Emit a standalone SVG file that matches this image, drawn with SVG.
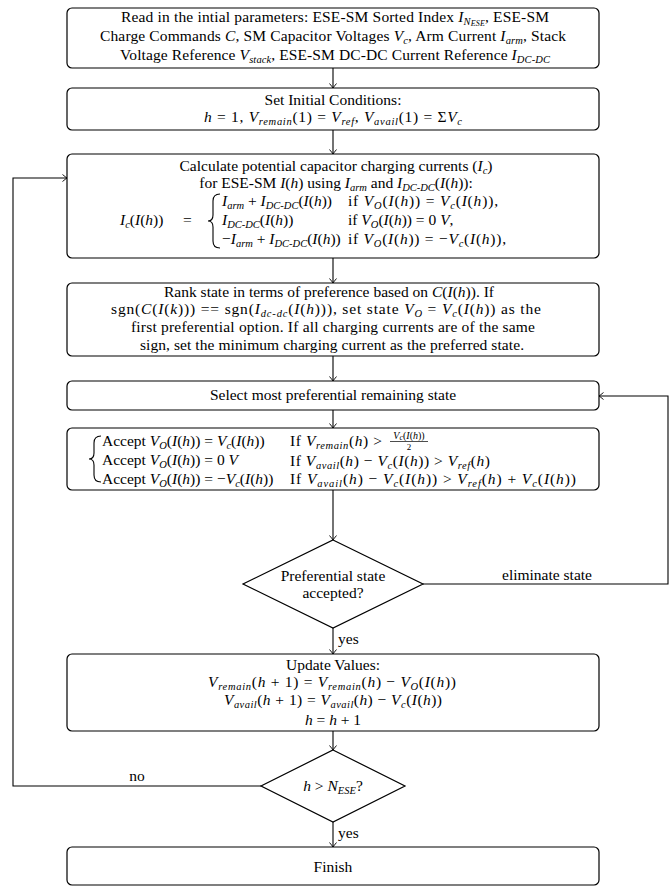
<svg xmlns="http://www.w3.org/2000/svg" width="671" height="886" viewBox="0 0 671 886">
<style>
.t{font-family:"Liberation Serif","Times New Roman","DejaVu Serif",serif;font-size:15.5px;fill:#000}
.i{font-style:italic}
.s{font-size:10.5px;font-style:italic}
.ss{font-size:8px;font-style:italic}
.box{fill:#fff;stroke:#000;stroke-width:1.2}
.ln{fill:none;stroke:#000;stroke-width:1.1}
.br{fill:none;stroke:#000;stroke-width:1.1}
</style>
<defs>
<marker id="ah" viewBox="-6 -5 7 10" refX="0" refY="0" markerWidth="7" markerHeight="10" orient="auto" markerUnits="userSpaceOnUse">
<path d="M-4.5,-3.5 Q-1.5,-1 0,0 Q-1.5,1 -4.5,3.5" fill="none" stroke="#000" stroke-width="0.9"/>
</marker>
</defs>
<rect width="671" height="886" fill="#fff"/>

<g id="connectors">
<path class="ln" d="M333,68 V88" marker-end="url(#ah)"/>
<path class="ln" d="M333,130 V154" marker-end="url(#ah)"/>
<path class="ln" d="M333,258 V283" marker-end="url(#ah)"/>
<path class="ln" d="M333,356 V381" marker-end="url(#ah)"/>
<path class="ln" d="M333,410 V428" marker-end="url(#ah)"/>
<path class="ln" d="M333,490 V540" marker-end="url(#ah)"/>
<path class="ln" d="M333,628 V654" marker-end="url(#ah)"/>
<path class="ln" d="M333,731 V750" marker-end="url(#ah)"/>
<path class="ln" d="M333,822 V847" marker-end="url(#ah)"/>
<path class="ln" d="M423,584 H668 V396 H599" marker-end="url(#ah)"/>
<path class="ln" d="M261,786 H13 V178 H67" marker-end="url(#ah)"/>
<text class="t" x="547" y="580" text-anchor="middle">eliminate state</text>
<text class="t" x="338" y="644">yes</text>
<text class="t" x="137" y="781" text-anchor="middle">no</text>
<text class="t" x="338" y="838">yes</text>
</g>

<g id="read-params">
<rect class="box" x="67" y="8" width="532" height="60" rx="5"/>
<text class="t" x="335" y="22" text-anchor="middle" textLength="428" lengthAdjust="spacing">Read in the intial parameters: ESE-SM Sorted Index <tspan class="i">I</tspan><tspan class="s" dy="2.5">N</tspan><tspan class="ss" dy="1.5">ESE</tspan><tspan dy="-4">, ESE-SM</tspan></text>
<text class="t" x="333" y="41" text-anchor="middle" textLength="466" lengthAdjust="spacing">Charge Commands <tspan class="i">C</tspan>, SM Capacitor Voltages <tspan class="i">V</tspan><tspan class="s" dy="3">c</tspan><tspan dy="-3">, Arm Current </tspan><tspan class="i">I</tspan><tspan class="s" dy="3">arm</tspan><tspan dy="-3">, Stack</tspan></text>
<text class="t" x="335" y="60" text-anchor="middle" textLength="430" lengthAdjust="spacing">Voltage Reference <tspan class="i">V</tspan><tspan class="s" dy="3">stack</tspan><tspan dy="-3">, ESE-SM DC-DC Current Reference </tspan><tspan class="i">I</tspan><tspan class="s" dy="3">DC-DC</tspan></text>
</g>

<g id="init">
<rect class="box" x="67" y="88" width="532" height="42" rx="5"/>
<text class="t" x="333" y="105" text-anchor="middle">Set Initial Conditions:</text>
<text class="t" x="333" y="122" text-anchor="middle" textLength="258" lengthAdjust="spacing"><tspan class="i">h</tspan> = 1, <tspan class="i">V</tspan><tspan class="s" dy="3">remain</tspan><tspan dy="-3">(1) = </tspan><tspan class="i">V</tspan><tspan class="s" dy="3">ref</tspan><tspan dy="-3">, </tspan><tspan class="i">V</tspan><tspan class="s" dy="3">avail</tspan><tspan dy="-3">(1) = Σ</tspan><tspan class="i">V</tspan><tspan class="s" dy="3">c</tspan></text>
</g>

<g id="calc-currents">
<rect class="box" x="67" y="154" width="532" height="104" rx="5"/>
<text class="t" x="336" y="171" text-anchor="middle">Calculate potential capacitor charging currents (<tspan class="i">I</tspan><tspan class="s" dy="3">c</tspan><tspan dy="-3">)</tspan></text>
<text class="t" x="336" y="188" text-anchor="middle">for ESE-SM <tspan class="i">I</tspan>(<tspan class="i">h</tspan>) using <tspan class="i">I</tspan><tspan class="s" dy="3">arm</tspan><tspan dy="-3"> and </tspan><tspan class="i">I</tspan><tspan class="s" dy="3">DC-DC</tspan><tspan dy="-3">(</tspan><tspan class="i">I</tspan>(<tspan class="i">h</tspan>)):</text>
<text class="t" x="120" y="225"><tspan class="i">I</tspan><tspan class="s" dy="3">c</tspan><tspan dy="-3">(</tspan><tspan class="i">I</tspan>(<tspan class="i">h</tspan>))</text>
<text class="t" x="183" y="225">=</text>
<path class="br" d="M220,194 Q213,194 213,201 V215 Q213,221 208,221 Q213,221 213,227 V241 Q213,248 220,248"/>
<text class="t" x="222" y="206"><tspan class="i">I</tspan><tspan class="s" dy="3">arm</tspan><tspan dy="-3"> + </tspan><tspan class="i">I</tspan><tspan class="s" dy="3">DC-DC</tspan><tspan dy="-3">(</tspan><tspan class="i">I</tspan>(<tspan class="i">h</tspan>))</text>
<text class="t" x="222" y="225"><tspan class="i">I</tspan><tspan class="s" dy="3">DC-DC</tspan><tspan dy="-3">(</tspan><tspan class="i">I</tspan>(<tspan class="i">h</tspan>))</text>
<text class="t" x="222" y="244">−<tspan class="i">I</tspan><tspan class="s" dy="3">arm</tspan><tspan dy="-3"> + </tspan><tspan class="i">I</tspan><tspan class="s" dy="3">DC-DC</tspan><tspan dy="-3">(</tspan><tspan class="i">I</tspan>(<tspan class="i">h</tspan>))</text>
<text class="t" x="348" y="206" textLength="150" lengthAdjust="spacing">if <tspan class="i">V</tspan><tspan class="s" dy="3">O</tspan><tspan dy="-3">(</tspan><tspan class="i">I</tspan>(<tspan class="i">h</tspan>)) = <tspan class="i">V</tspan><tspan class="s" dy="3">c</tspan><tspan dy="-3">(</tspan><tspan class="i">I</tspan>(<tspan class="i">h</tspan>)),</text>
<text class="t" x="348" y="225">if <tspan class="i">V</tspan><tspan class="s" dy="3">O</tspan><tspan dy="-3">(</tspan><tspan class="i">I</tspan>(<tspan class="i">h</tspan>)) = 0 <tspan class="i">V</tspan>,</text>
<text class="t" x="348" y="244" textLength="158" lengthAdjust="spacing">if <tspan class="i">V</tspan><tspan class="s" dy="3">O</tspan><tspan dy="-3">(</tspan><tspan class="i">I</tspan>(<tspan class="i">h</tspan>)) = −<tspan class="i">V</tspan><tspan class="s" dy="3">c</tspan><tspan dy="-3">(</tspan><tspan class="i">I</tspan>(<tspan class="i">h</tspan>)),</text>
</g>

<g id="rank">
<rect class="box" x="67" y="283" width="532" height="73" rx="5"/>
<text class="t" x="329" y="297" text-anchor="middle" textLength="330" lengthAdjust="spacing">Rank state in terms of preference based on <tspan class="i">C</tspan>(<tspan class="i">I</tspan>(<tspan class="i">h</tspan>)). If</text>
<text class="t" x="326" y="314" text-anchor="middle" textLength="430" lengthAdjust="spacing">sgn(<tspan class="i">C</tspan>(<tspan class="i">I</tspan>(<tspan class="i">k</tspan>))) == sgn(<tspan class="i">I</tspan><tspan class="s" dy="3">dc-dc</tspan><tspan dy="-3">(</tspan><tspan class="i">I</tspan>(<tspan class="i">h</tspan>))), set state <tspan class="i">V</tspan><tspan class="s" dy="3">O</tspan><tspan dy="-3"> = </tspan><tspan class="i">V</tspan><tspan class="s" dy="3">c</tspan><tspan dy="-3">(</tspan><tspan class="i">I</tspan>(<tspan class="i">h</tspan>)) as the</text>
<text class="t" x="333" y="332" text-anchor="middle" textLength="404" lengthAdjust="spacing">first preferential option. If all charging currents are of the same</text>
<text class="t" x="332" y="350" text-anchor="middle" textLength="384" lengthAdjust="spacing">sign, set the minimum charging current as the preferred state.</text>
</g>

<g id="select">
<rect class="box" x="67" y="381" width="532" height="29" rx="5"/>
<text class="t" x="333" y="400" text-anchor="middle">Select most preferential remaining state</text>
</g>

<g id="accept">
<rect class="box" x="67" y="428" width="532" height="62" rx="5"/>
<path class="br" d="M101,436 Q94,436 94,443 V453 Q94,459 89,459 Q94,459 94,465 V475 Q94,482 101,482"/>
<text class="t" x="102" y="446">Accept <tspan class="i">V</tspan><tspan class="s" dy="3">O</tspan><tspan dy="-3">(</tspan><tspan class="i">I</tspan>(<tspan class="i">h</tspan>)) = <tspan class="i">V</tspan><tspan class="s" dy="3">c</tspan><tspan dy="-3">(</tspan><tspan class="i">I</tspan>(<tspan class="i">h</tspan>))</text>
<text class="t" x="102" y="465">Accept <tspan class="i">V</tspan><tspan class="s" dy="3">O</tspan><tspan dy="-3">(</tspan><tspan class="i">I</tspan>(<tspan class="i">h</tspan>)) = 0 <tspan class="i">V</tspan></text>
<text class="t" x="102" y="484">Accept <tspan class="i">V</tspan><tspan class="s" dy="3">O</tspan><tspan dy="-3">(</tspan><tspan class="i">I</tspan>(<tspan class="i">h</tspan>)) = −<tspan class="i">V</tspan><tspan class="s" dy="3">c</tspan><tspan dy="-3">(</tspan><tspan class="i">I</tspan>(<tspan class="i">h</tspan>))</text>
<text class="t" x="290" y="446" textLength="92" lengthAdjust="spacing">If <tspan class="i">V</tspan><tspan class="s" dy="3">remain</tspan><tspan dy="-3">(</tspan><tspan class="i">h</tspan>) &gt;</text>
<text class="t" x="409" y="438.5" text-anchor="middle" style="font-size:10px"><tspan class="i">V</tspan><tspan class="ss" dy="1.5">c</tspan><tspan dy="-1.5">(</tspan><tspan class="i">I</tspan>(<tspan class="i">h</tspan>))</text>
<line x1="390" y1="441.5" x2="428" y2="441.5" stroke="#000" stroke-width="0.7"/>
<text class="t" x="409" y="450" text-anchor="middle" style="font-size:9px">2</text>
<text class="t" x="290" y="466" textLength="200" lengthAdjust="spacing">If <tspan class="i">V</tspan><tspan class="s" dy="3">avail</tspan><tspan dy="-3">(</tspan><tspan class="i">h</tspan>) − <tspan class="i">V</tspan><tspan class="s" dy="3">c</tspan><tspan dy="-3">(</tspan><tspan class="i">I</tspan>(<tspan class="i">h</tspan>)) &gt; <tspan class="i">V</tspan><tspan class="s" dy="3">ref</tspan><tspan dy="-3">(</tspan><tspan class="i">h</tspan>)</text>
<text class="t" x="290" y="484" textLength="286" lengthAdjust="spacing">If <tspan class="i">V</tspan><tspan class="s" dy="3">avail</tspan><tspan dy="-3">(</tspan><tspan class="i">h</tspan>) − <tspan class="i">V</tspan><tspan class="s" dy="3">c</tspan><tspan dy="-3">(</tspan><tspan class="i">I</tspan>(<tspan class="i">h</tspan>)) &gt; <tspan class="i">V</tspan><tspan class="s" dy="3">ref</tspan><tspan dy="-3">(</tspan><tspan class="i">h</tspan>) + <tspan class="i">V</tspan><tspan class="s" dy="3">c</tspan><tspan dy="-3">(</tspan><tspan class="i">I</tspan>(<tspan class="i">h</tspan>))</text>
</g>

<g id="accepted-decision">
<polygon class="box" points="333,540 423,584 333,628 243,584"/>
<text class="t" x="333" y="581" text-anchor="middle">Preferential state</text>
<text class="t" x="333" y="598" text-anchor="middle">accepted?</text>
</g>

<g id="update">
<rect class="box" x="67" y="654" width="532" height="77" rx="5"/>
<text class="t" x="333" y="670" text-anchor="middle">Update Values:</text>
<text class="t" x="332" y="687" text-anchor="middle" textLength="248" lengthAdjust="spacing"><tspan class="i">V</tspan><tspan class="s" dy="2.5">remain</tspan><tspan dy="-2.5">(</tspan><tspan class="i">h</tspan> + 1) = <tspan class="i">V</tspan><tspan class="s" dy="2.5">remain</tspan><tspan dy="-2.5">(</tspan><tspan class="i">h</tspan>) − <tspan class="i">V</tspan><tspan class="s" dy="2.5">O</tspan><tspan dy="-2.5">(</tspan><tspan class="i">I</tspan>(<tspan class="i">h</tspan>))</text>
<text class="t" x="333" y="705" text-anchor="middle" textLength="218" lengthAdjust="spacing"><tspan class="i">V</tspan><tspan class="s" dy="2.5">avail</tspan><tspan dy="-2.5">(</tspan><tspan class="i">h</tspan> + 1) = <tspan class="i">V</tspan><tspan class="s" dy="2.5">avail</tspan><tspan dy="-2.5">(</tspan><tspan class="i">h</tspan>) − <tspan class="i">V</tspan><tspan class="s" dy="2.5">c</tspan><tspan dy="-2.5">(</tspan><tspan class="i">I</tspan>(<tspan class="i">h</tspan>))</text>
<text class="t" x="333" y="725" text-anchor="middle"><tspan class="i">h</tspan> = <tspan class="i">h</tspan> + 1</text>
</g>

<g id="h-decision">
<polygon class="box" points="333,750 405,786 333,822 261,786"/>
<text class="t" x="333" y="791" text-anchor="middle"><tspan class="i">h</tspan> &gt; <tspan class="i">N</tspan><tspan class="s" dy="3">ESE</tspan><tspan dy="-3">?</tspan></text>
</g>

<g id="finish">
<rect class="box" x="67" y="847" width="532" height="38" rx="5"/>
<text class="t" x="333" y="872" text-anchor="middle">Finish</text>
</g>
</svg>
